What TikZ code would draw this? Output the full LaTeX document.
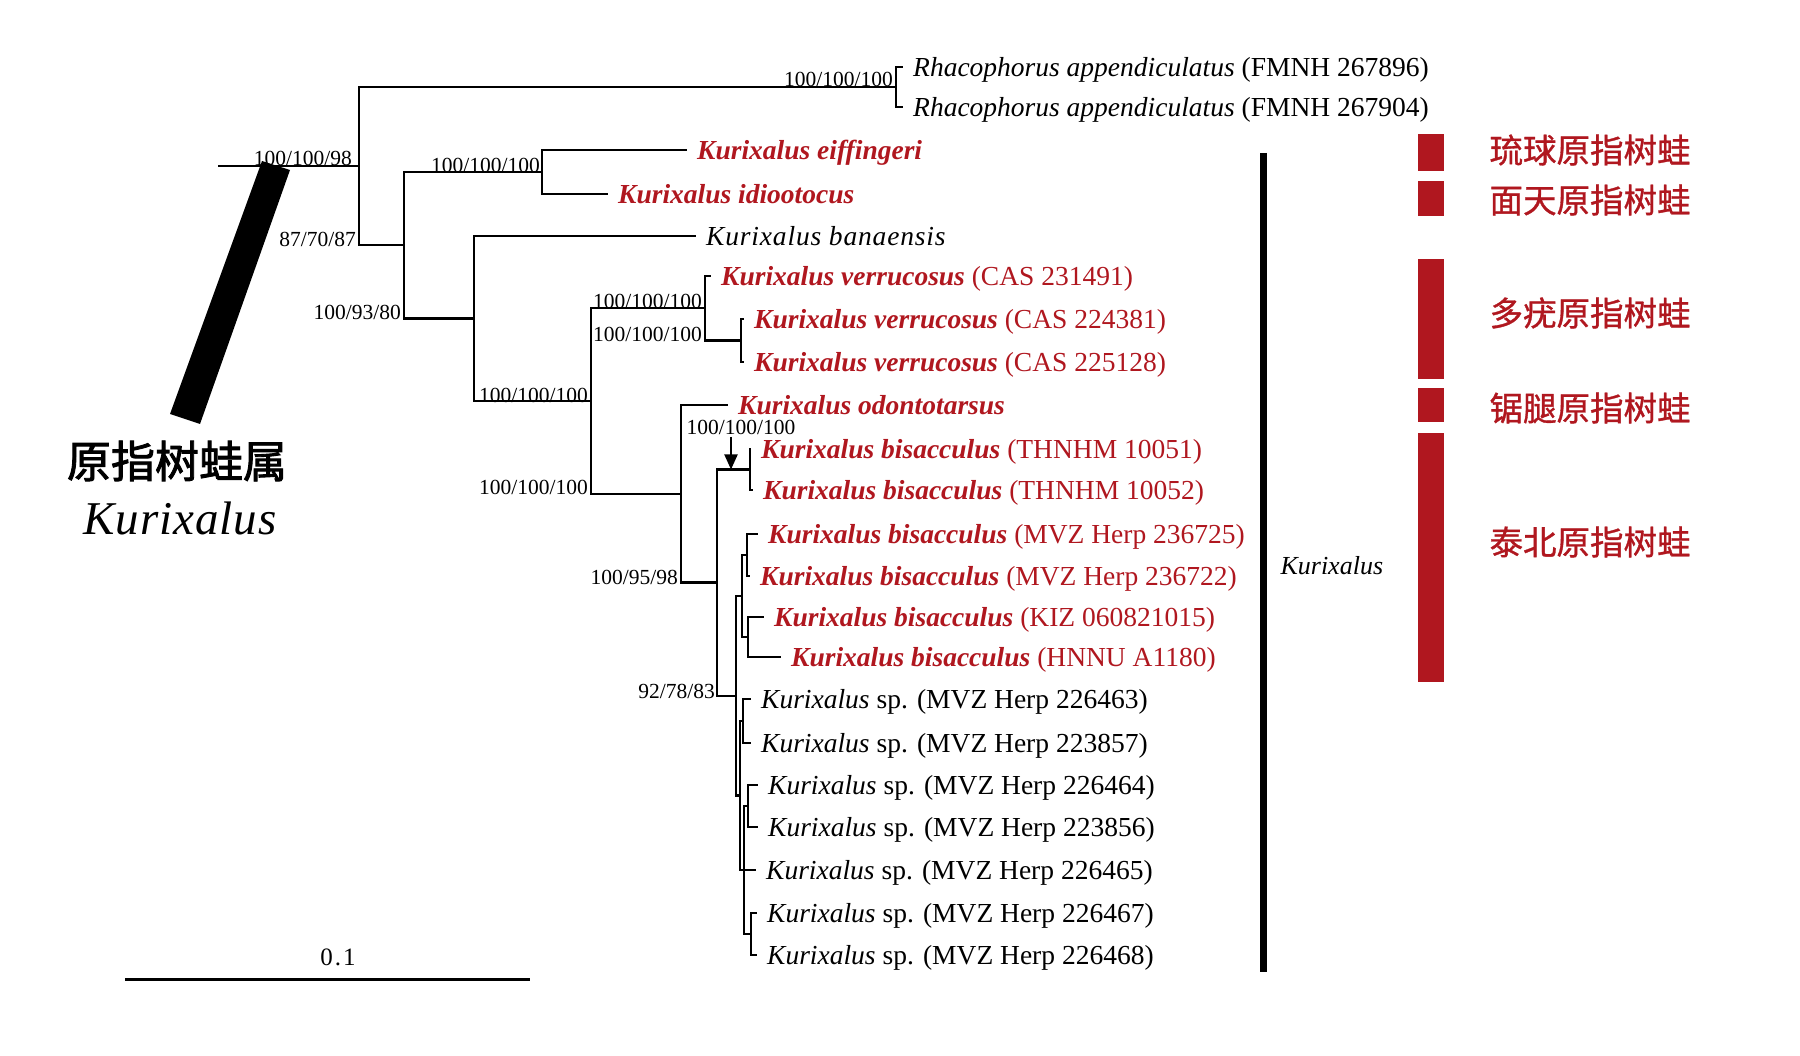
\documentclass[tikz,border=0pt]{standalone}
\usepackage{fontspec}
\setmainfont{Liberation Serif}
\newfontfamily\cjk[FakeBold=1]{Noto Sans CJK SC}
\newfontfamily\cjkbold[FakeBold=2]{Noto Sans CJK SC}
\usetikzlibrary{arrows.meta}
\definecolor{frogred}{RGB}{176,23,31}

\begin{document}
\begin{tikzpicture}[x=1pt,y=-1pt,
    branch/.style={line width=2.6pt},
    leaf/.style={anchor=west,inner xsep=10pt,inner ysep=0pt,text height=22pt,text depth=3pt,font=\fontsize{27.5}{31}\selectfont},
    redleaf/.style={leaf,text=frogred},
    bsup/.style={anchor=south east,inner sep=1pt,font=\fontsize{21.5}{23}\selectfont},
    cnlab/.style={anchor=west,text=frogred,font=\cjk\fontsize{33.5}{37}\selectfont}]
    \useasboundingbox (0,0) rectangle (1800,1056);

    % internal nodes
    \coordinate (rootEnd) at (218,166);
    \coordinate (nRoot) at (359,166);
    \coordinate (nRha) at (896,87);
    \coordinate (n87) at (404,245);
    \coordinate (nEI) at (542,172);
    \coordinate (n93) at (474,318.5);
    \coordinate (nB) at (591,401);
    \coordinate (nVer) at (705,308);
    \coordinate (nVi) at (741,340.5);
    \coordinate (nC) at (681,494);
    \coordinate (n95) at (717,582.6);
    \coordinate (nTH) at (750,469.5);
    \coordinate (n92) at (736,696);
    \coordinate (nBis) at (742,596);
    \coordinate (nMVZ) at (747,555);
    \coordinate (nKH) at (748,637);
    \coordinate (nSP) at (740,795.5);
    \coordinate (nSA) at (743,721);
    \coordinate (nSQ) at (744,870);
    \coordinate (nSB) at (748,806);
    \coordinate (nSC) at (751,934);

    % leaves
    \node[leaf] (tRha1) at (903,67) {\textit{Rhacophorus appendiculatus} (FMNH 267896)};
    \node[leaf] (tRha2) at (903,107) {\textit{Rhacophorus appendiculatus} (FMNH 267904)};
    \node[redleaf] (tEiff) at (687,150) {\textbf{\textit{Kurixalus eiffingeri}}};
    \node[redleaf] (tIdio) at (608,194) {\textbf{\textit{Kurixalus idiootocus}}};
    \node[leaf] (tBana) at (696,236) {\addfontfeatures{LetterSpace=3}\textit{Kurixalus banaensis}};
    \node[redleaf] (tVer1) at (711,276) {\textbf{\textit{Kurixalus verrucosus}} (CAS 231491)};
    \node[redleaf] (tVer2) at (744,319) {\textbf{\textit{Kurixalus verrucosus}} (CAS 224381)};
    \node[redleaf] (tVer3) at (744,362) {\textbf{\textit{Kurixalus verrucosus}} (CAS 225128)};
    \node[redleaf] (tOdo) at (728,405) {\textbf{\textit{Kurixalus odontotarsus}}};
    \node[redleaf] (tTH1) at (751,449) {\textbf{\textit{Kurixalus bisacculus}} (THNHM 10051)};
    \node[redleaf] (tTH2) at (753,490) {\textbf{\textit{Kurixalus bisacculus}} (THNHM 10052)};
    \node[redleaf] (tMVZ1) at (758,534) {\textbf{\textit{Kurixalus bisacculus}} (MVZ Herp 236725)};
    \node[redleaf] (tMVZ2) at (750,576) {\textbf{\textit{Kurixalus bisacculus}} (MVZ Herp 236722)};
    \node[redleaf] (tKIZ) at (764,617) {\textbf{\textit{Kurixalus bisacculus}} (KIZ 060821015)};
    \node[redleaf] (tHNNU) at (781,657) {\textbf{\textit{Kurixalus bisacculus}} (HNNU A1180)};
    \node[leaf] (tSp1) at (751,699) {\textit{Kurixalus} sp. (MVZ Herp 226463)};
    \node[leaf] (tSp2) at (751,743) {\textit{Kurixalus} sp. (MVZ Herp 223857)};
    \node[leaf] (tSp3) at (758,785) {\textit{Kurixalus} sp. (MVZ Herp 226464)};
    \node[leaf] (tSp4) at (758,827) {\textit{Kurixalus} sp. (MVZ Herp 223856)};
    \node[leaf] (tSp5) at (756,870) {\textit{Kurixalus} sp. (MVZ Herp 226465)};
    \node[leaf] (tSp6) at (757,913) {\textit{Kurixalus} sp. (MVZ Herp 226467)};
    \node[leaf] (tSp7) at (757,955) {\textit{Kurixalus} sp. (MVZ Herp 226468)};

    % branches
    \draw[branch] (rootEnd) -- (nRoot);
    \foreach \a/\b in {nRoot/nRha,nRoot/n87,nRha/tRha1.west,nRha/tRha2.west,
        n87/nEI,n87/n93,nEI/tEiff.west,nEI/tIdio.west,n93/tBana.west,n93/nB,
        nB/nVer,nB/nC,nVer/tVer1.west,nVer/nVi,nVi/tVer2.west,nVi/tVer3.west,
        nC/tOdo.west,nC/n95,n95/nTH,n95/n92,nTH/tTH1.west,nTH/tTH2.west,
        n92/nBis,n92/nSP,nBis/nMVZ,nBis/nKH,nMVZ/tMVZ1.west,nMVZ/tMVZ2.west,
        nKH/tKIZ.west,nKH/tHNNU.west,nSP/nSA,nSP/nSQ,nSA/tSp1.west,nSA/tSp2.west,
        nSQ/nSB,nSQ/tSp5.west,nSQ/nSC,nSB/tSp3.west,nSB/tSp4.west,
        nSC/tSp6.west,nSC/tSp7.west}
        \draw[branch] (\a) |- (\b);

    % support values
    \node[bsup] (s1) at (894,88) {100/100/100};
    \node[bsup] (s2) at (353,167) {100/100/98};
    \node[bsup] (s3) at (357,248) {87/70/87};
    \node[bsup] (s4) at (541,174) {100/100/100};
    \node[bsup] (s5) at (402,321) {100/93/80};
    \node[bsup] (s6) at (589,404) {100/100/100};
    \node[bsup] (s7) at (703,310) {100/100/100};
    \node[bsup] (s8) at (703,343) {100/100/100};
    \node[bsup] (s9) at (589,496) {100/100/100};
    \node[bsup] (s10) at (679,586) {100/95/98};
    \node[bsup] (s11) at (716,700) {92/78/83};
    \node[bsup,anchor=south] (s12) at (741,436) {100/100/100};
    \coordinate (aTop) at (731,437);
    \draw[line width=2pt,-{Triangle[length=15pt,width=13pt]}] (aTop) -- (aTop |- nTH);

    % genus bar
    \fill (262,161) -- (290,170) -- (200,424) -- (170,414) -- cycle;
    \node (genusCN) at (177,461) {\cjkbold\fontsize{44}{48}\selectfont 原指树蛙属};
    \node (genusLat) at (180,518) {\fontsize{47}{50}\selectfont\itshape\addfontfeatures{LetterSpace=2}Kurixalus};

    % clade bracket
    \draw[line width=7pt] (1263,153) -- (1263,972);
    \node[anchor=west,font=\fontsize{26}{28}\selectfont\itshape] (cladeLab) at (1277,566) {Kurixalus};

    % species bars
    \fill[frogred] (1418,134) rectangle (1444,171);
    \fill[frogred] (1418,181) rectangle (1444,216);
    \fill[frogred] (1418,259) rectangle (1444,379);
    \fill[frogred] (1418,388) rectangle (1444,422);
    \fill[frogred] (1418,433) rectangle (1444,682);
    \node[cnlab] (cn1) at (1486,150) {琉球原指树蛙};
    \node[cnlab] (cn2) at (1486,200) {面天原指树蛙};
    \node[cnlab] (cn3) at (1486,313) {多疣原指树蛙};
    \node[cnlab] (cn4) at (1486,408) {锯腿原指树蛙};
    \node[cnlab] (cn5) at (1486,542) {泰北原指树蛙};

    % scale
    \draw[line width=3pt] (125,979) -- (530,979);
    \node[font=\fontsize{25}{27}\selectfont\addfontfeatures{LetterSpace=8}] (scaleLab) at (338,957) {0.1};
\end{tikzpicture}
\end{document}
